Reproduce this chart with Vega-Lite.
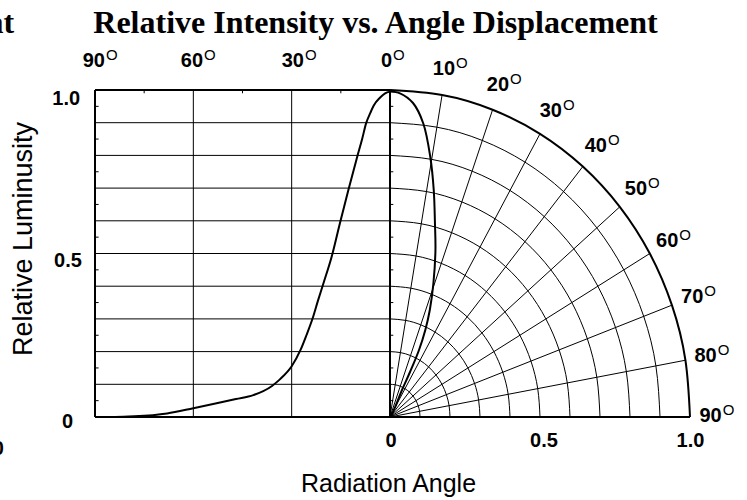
{
  "$schema": "https://vega.github.io/schema/vega-lite/v6.json",
  "width": 595,
  "height": 327,
  "autosize": {"type": "none"},
  "padding": {"left": 95, "top": 90, "right": 57, "bottom": 83},
  "background": "white",
  "config": {"view": {"stroke": null}, "font": "Liberation Sans"},
  "datasets": {
    "leftcurve": [
      {"a": 0, "y": 0.995}, {"a": 1.5, "y": 0.99}, {"a": 3, "y": 0.977}, {"a": 5, "y": 0.952},
      {"a": 6, "y": 0.93}, {"a": 7.3, "y": 0.898}, {"a": 8.5, "y": 0.85}, {"a": 10, "y": 0.796},
      {"a": 12.7, "y": 0.694}, {"a": 15.3, "y": 0.592}, {"a": 17.8, "y": 0.49}, {"a": 20.3, "y": 0.409},
      {"a": 22, "y": 0.355}, {"a": 23.6, "y": 0.302}, {"a": 25.5, "y": 0.25}, {"a": 27.3, "y": 0.205},
      {"a": 30, "y": 0.155}, {"a": 33.6, "y": 0.115}, {"a": 36, "y": 0.095}, {"a": 41.7, "y": 0.067},
      {"a": 47, "y": 0.055}, {"a": 52.9, "y": 0.042}, {"a": 60, "y": 0.027}, {"a": 68, "y": 0.011},
      {"a": 78, "y": 0.002}, {"a": 84, "y": 0}, {"a": 88.5, "y": 0}
    ],
    "polarcurve": [
      {"k": 1, "x": 0, "y": 0.9954}, {"k": 2, "x": 0.0333, "y": 0.9899}, {"k": 3, "x": 0.0767, "y": 0.9602},
      {"k": 4, "x": 0.111, "y": 0.8976}, {"k": 5, "x": 0.1343, "y": 0.7951}, {"k": 6, "x": 0.1458, "y": 0.6942},
      {"k": 7, "x": 0.1498, "y": 0.5933}, {"k": 8, "x": 0.1515, "y": 0.5107}, {"k": 9, "x": 0.1448, "y": 0.4098},
      {"k": 10, "x": 0.1327, "y": 0.3272}, {"k": 11, "x": 0.1177, "y": 0.2661}, {"k": 12, "x": 0.0967, "y": 0.2049},
      {"k": 13, "x": 0.0667, "y": 0.1376}, {"k": 14, "x": 0.04, "y": 0.0826}, {"k": 15, "x": 0.02, "y": 0.0367},
      {"k": 16, "x": 0.0067, "y": 0.0092}, {"k": 17, "x": 0, "y": 0}
    ],
    "rings": [
      {"r":0.1,"x":0,"y":0.1},{"r":0.1,"x":0.0174,"y":0.0985},{"r":0.1,"x":0.0342,"y":0.094},{"r":0.1,"x":0.05,"y":0.0866},{"r":0.1,"x":0.0643,"y":0.0766},{"r":0.1,"x":0.0766,"y":0.0643},{"r":0.1,"x":0.0866,"y":0.05},{"r":0.1,"x":0.094,"y":0.0342},{"r":0.1,"x":0.0985,"y":0.0174},{"r":0.1,"x":0.1,"y":0},
      {"r":0.2,"x":0,"y":0.2},{"r":0.2,"x":0.0347,"y":0.197},{"r":0.2,"x":0.0684,"y":0.1879},{"r":0.2,"x":0.1,"y":0.1732},{"r":0.2,"x":0.1286,"y":0.1532},{"r":0.2,"x":0.1532,"y":0.1286},{"r":0.2,"x":0.1732,"y":0.1},{"r":0.2,"x":0.1879,"y":0.0684},{"r":0.2,"x":0.197,"y":0.0347},{"r":0.2,"x":0.2,"y":0},
      {"r":0.3,"x":0,"y":0.3},{"r":0.3,"x":0.0521,"y":0.2954},{"r":0.3,"x":0.1026,"y":0.2819},{"r":0.3,"x":0.15,"y":0.2598},{"r":0.3,"x":0.1928,"y":0.2298},{"r":0.3,"x":0.2298,"y":0.1928},{"r":0.3,"x":0.2598,"y":0.15},{"r":0.3,"x":0.2819,"y":0.1026},{"r":0.3,"x":0.2954,"y":0.0521},{"r":0.3,"x":0.3,"y":0},
      {"r":0.4,"x":0,"y":0.4},{"r":0.4,"x":0.0695,"y":0.3939},{"r":0.4,"x":0.1368,"y":0.3759},{"r":0.4,"x":0.2,"y":0.3464},{"r":0.4,"x":0.2571,"y":0.3064},{"r":0.4,"x":0.3064,"y":0.2571},{"r":0.4,"x":0.3464,"y":0.2},{"r":0.4,"x":0.3759,"y":0.1368},{"r":0.4,"x":0.3939,"y":0.0695},{"r":0.4,"x":0.4,"y":0},
      {"r":0.5,"x":0,"y":0.5},{"r":0.5,"x":0.0868,"y":0.4924},{"r":0.5,"x":0.171,"y":0.4698},{"r":0.5,"x":0.25,"y":0.433},{"r":0.5,"x":0.3214,"y":0.383},{"r":0.5,"x":0.383,"y":0.3214},{"r":0.5,"x":0.433,"y":0.25},{"r":0.5,"x":0.4698,"y":0.171},{"r":0.5,"x":0.4924,"y":0.0868},{"r":0.5,"x":0.5,"y":0},
      {"r":0.6,"x":0,"y":0.6},{"r":0.6,"x":0.1042,"y":0.5909},{"r":0.6,"x":0.2052,"y":0.5638},{"r":0.6,"x":0.3,"y":0.5196},{"r":0.6,"x":0.3857,"y":0.4596},{"r":0.6,"x":0.4596,"y":0.3857},{"r":0.6,"x":0.5196,"y":0.3},{"r":0.6,"x":0.5638,"y":0.2052},{"r":0.6,"x":0.5909,"y":0.1042},{"r":0.6,"x":0.6,"y":0},
      {"r":0.7,"x":0,"y":0.7},{"r":0.7,"x":0.1216,"y":0.6894},{"r":0.7,"x":0.2394,"y":0.6578},{"r":0.7,"x":0.35,"y":0.6062},{"r":0.7,"x":0.45,"y":0.5362},{"r":0.7,"x":0.5362,"y":0.45},{"r":0.7,"x":0.6062,"y":0.35},{"r":0.7,"x":0.6578,"y":0.2394},{"r":0.7,"x":0.6894,"y":0.1216},{"r":0.7,"x":0.7,"y":0},
      {"r":0.8,"x":0,"y":0.8},{"r":0.8,"x":0.1389,"y":0.7878},{"r":0.8,"x":0.2736,"y":0.7518},{"r":0.8,"x":0.4,"y":0.6928},{"r":0.8,"x":0.5142,"y":0.6128},{"r":0.8,"x":0.6128,"y":0.5142},{"r":0.8,"x":0.6928,"y":0.4},{"r":0.8,"x":0.7518,"y":0.2736},{"r":0.8,"x":0.7878,"y":0.1389},{"r":0.8,"x":0.8,"y":0},
      {"r":0.9,"x":0,"y":0.9},{"r":0.9,"x":0.1563,"y":0.8863},{"r":0.9,"x":0.3078,"y":0.8457},{"r":0.9,"x":0.45,"y":0.7794},{"r":0.9,"x":0.5785,"y":0.6894},{"r":0.9,"x":0.6894,"y":0.5785},{"r":0.9,"x":0.7794,"y":0.45},{"r":0.9,"x":0.8457,"y":0.3078},{"r":0.9,"x":0.8863,"y":0.1563},{"r":0.9,"x":0.9,"y":0},
      {"r":1,"x":0,"y":1},{"r":1,"x":0.1736,"y":0.9848},{"r":1,"x":0.342,"y":0.9397},{"r":1,"x":0.5,"y":0.866},{"r":1,"x":0.6428,"y":0.766},{"r":1,"x":0.766,"y":0.6428},{"r":1,"x":0.866,"y":0.5},{"r":1,"x":0.9397,"y":0.342},{"r":1,"x":0.9848,"y":0.1736},{"r":1,"x":1,"y":0}
    ],
    "radials": [
      {"deg": 10, "x": 0, "y": 0, "x2": 0.1736, "y2": 0.9848}, {"deg": 20, "x": 0, "y": 0, "x2": 0.342, "y2": 0.9397},
      {"deg": 30, "x": 0, "y": 0, "x2": 0.5, "y2": 0.866}, {"deg": 40, "x": 0, "y": 0, "x2": 0.6428, "y2": 0.766},
      {"deg": 50, "x": 0, "y": 0, "x2": 0.766, "y2": 0.6428}, {"deg": 60, "x": 0, "y": 0, "x2": 0.866, "y2": 0.5},
      {"deg": 70, "x": 0, "y": 0, "x2": 0.9397, "y2": 0.342}, {"deg": 80, "x": 0, "y": 0, "x2": 0.9848, "y2": 0.1736}
    ],
    "hgrid": [{"y": 0.1}, {"y": 0.2}, {"y": 0.3}, {"y": 0.4}, {"y": 0.5}, {"y": 0.6}, {"y": 0.7}, {"y": 0.8}, {"y": 0.9}],
    "minor": [{"y": 0.05}, {"y": 0.15}, {"y": 0.25}, {"y": 0.35}, {"y": 0.45}, {"y": 0.55}, {"y": 0.65}, {"y": 0.75}, {"y": 0.85}, {"y": 0.95}],
    "deglabels": [
      {"t": "90", "x": -0.95, "y": 1.0703}, {"t": "60", "x": -0.6233, "y": 1.0703},
      {"t": "30", "x": -0.2867, "y": 1.0703}, {"t": "0", "x": 0.0067, "y": 1.0703},
      {"t": "10", "x": 0.2167, "y": 1.0459}, {"t": "20", "x": 0.3967, "y": 0.9979},
      {"t": "30", "x": 0.5733, "y": 0.9174}, {"t": "40", "x": 0.7233, "y": 0.8113},
      {"t": "50", "x": 0.8567, "y": 0.6789}, {"t": "60", "x": 0.961, "y": 0.5208},
      {"t": "70", "x": 1.0443, "y": 0.3477}, {"t": "80", "x": 1.089, "y": 0.1691},
      {"t": "90", "x": 1.1057, "y": -0.0144}
    ],
    "numlabels": [
      {"t": "0", "x": 0.0033, "y": -0.0917}, {"t": "0.5", "x": 0.5133, "y": -0.0917}, {"t": "1.0", "x": 1.0017, "y": -0.0917},
      {"t": "1.0", "x": -1.0793, "y": 0.9541}, {"t": "0.5", "x": -1.0733, "y": 0.4596}, {"t": "0", "x": -1.075, "y": -0.0346}
    ]
  },
  "resolve": {"scale": {"x": "independent"}},
  "layer": [
    {
      "data": {"name": "leftcurve"},
      "mark": {"type": "line", "color": "black", "strokeWidth": 2, "interpolate": "monotone"},
      "encoding": {
        "x": {"field": "a", "type": "quantitative", "title": "Radiation Angle", "scale": {"domain": [90, -91.525], "nice": false, "zero": false}, "axis": null},
        "y": {"field": "y", "type": "quantitative", "title": "Relative Luminusity", "scale": {"domain": [0, 1], "nice": false, "zero": false}, "axis": null}
      }
    },
    {
      "data": {"name": "hgrid"},
      "mark": {"type": "rule", "color": "black", "strokeWidth": 1},
      "encoding": {
        "x": {"datum": 90, "type": "quantitative", "scale": {"domain": [90, -91.525], "nice": false, "zero": false}, "axis": null},
        "x2": {"datum": 0},
        "y": {"field": "y", "type": "quantitative", "scale": {"domain": [0, 1], "nice": false, "zero": false}, "axis": null}
      }
    },
    {
      "data": {"values": [{"a": 60, "y": 0, "y2": 1}, {"a": 30, "y": 0, "y2": 1}]},
      "mark": {"type": "rule", "color": "black", "strokeWidth": 1},
      "encoding": {
        "x": {"field": "a", "type": "quantitative", "scale": {"domain": [90, -91.525], "nice": false, "zero": false}, "axis": null},
        "y": {"field": "y", "type": "quantitative", "scale": {"domain": [0, 1], "nice": false, "zero": false}, "axis": null},
        "y2": {"field": "y2"}
      }
    },
    {
      "data": {"values": [{"a": 90, "y": 0, "y2": 1}, {"a": 0, "y": 0, "y2": 1}]},
      "mark": {"type": "rule", "color": "black", "strokeWidth": 2},
      "encoding": {
        "x": {"field": "a", "type": "quantitative", "scale": {"domain": [90, -91.525], "nice": false, "zero": false}, "axis": null},
        "y": {"field": "y", "type": "quantitative", "scale": {"domain": [0, 1], "nice": false, "zero": false}, "axis": null},
        "y2": {"field": "y2"}
      }
    },
    {
      "data": {"values": [{"y": 1}]},
      "mark": {"type": "rule", "color": "black", "strokeWidth": 2},
      "encoding": {
        "x": {"datum": 90, "type": "quantitative", "scale": {"domain": [90, -91.525], "nice": false, "zero": false}, "axis": null},
        "x2": {"datum": 0},
        "y": {"field": "y", "type": "quantitative", "scale": {"domain": [0, 1], "nice": false, "zero": false}, "axis": null}
      }
    },
    {
      "data": {"name": "minor"},
      "mark": {"type": "rule", "color": "black", "strokeWidth": 1},
      "encoding": {
        "x": {"datum": 90, "type": "quantitative", "scale": {"domain": [90, -91.525], "nice": false, "zero": false}, "axis": null},
        "x2": {"datum": 88.9},
        "y": {"field": "y", "type": "quantitative", "scale": {"domain": [0, 1], "nice": false, "zero": false}, "axis": null}
      }
    },
    {
      "data": {"values": [{"a": 75, "y": 1, "y2": 0.99}, {"a": 45, "y": 1, "y2": 0.99}, {"a": 15, "y": 1, "y2": 0.99}]},
      "mark": {"type": "rule", "color": "black", "strokeWidth": 1},
      "encoding": {
        "x": {"field": "a", "type": "quantitative", "scale": {"domain": [90, -91.525], "nice": false, "zero": false}, "axis": null},
        "y": {"field": "y", "type": "quantitative", "scale": {"domain": [0, 1], "nice": false, "zero": false}, "axis": null},
        "y2": {"field": "y2"}
      }
    },
    {
      "data": {"name": "rings"},
      "transform": [{"filter": "datum.r < 1"}],
      "mark": {"type": "line", "color": "black", "strokeWidth": 1, "interpolate": "natural"},
      "encoding": {
        "x": {"field": "x", "type": "quantitative", "scale": {"domain": [-0.98333, 1], "nice": false, "zero": false}, "axis": null},
        "y": {"field": "y", "type": "quantitative", "scale": {"domain": [0, 1], "nice": false, "zero": false}, "axis": null},
        "detail": {"field": "r", "type": "nominal"}
      }
    },
    {
      "data": {"name": "rings"},
      "transform": [{"filter": "datum.r == 1"}],
      "mark": {"type": "line", "color": "black", "strokeWidth": 2, "interpolate": "natural"},
      "encoding": {
        "x": {"field": "x", "type": "quantitative", "scale": {"domain": [-0.98333, 1], "nice": false, "zero": false}, "axis": null},
        "y": {"field": "y", "type": "quantitative", "scale": {"domain": [0, 1], "nice": false, "zero": false}, "axis": null}
      }
    },
    {
      "data": {"name": "radials"},
      "mark": {"type": "rule", "color": "black", "strokeWidth": 1},
      "encoding": {
        "x": {"field": "x", "type": "quantitative", "scale": {"domain": [-0.98333, 1], "nice": false, "zero": false}, "axis": null},
        "y": {"field": "y", "type": "quantitative", "scale": {"domain": [0, 1], "nice": false, "zero": false}, "axis": null},
        "x2": {"field": "x2"},
        "y2": {"field": "y2"}
      }
    },
    {
      "data": {"values": [{"y": 0}]},
      "mark": {"type": "rule", "color": "black", "strokeWidth": 2},
      "encoding": {
        "x": {"datum": -0.98333, "type": "quantitative", "scale": {"domain": [-0.98333, 1], "nice": false, "zero": false}, "axis": null},
        "x2": {"datum": 1},
        "y": {"field": "y", "type": "quantitative", "scale": {"domain": [0, 1], "nice": false, "zero": false}, "axis": null}
      }
    },
    {
      "data": {"name": "minor"},
      "mark": {"type": "rule", "color": "black", "strokeWidth": 1},
      "encoding": {
        "x": {"datum": 0, "type": "quantitative", "scale": {"domain": [-0.98333, 1], "nice": false, "zero": false}, "axis": null},
        "x2": {"datum": 0.011},
        "y": {"field": "y", "type": "quantitative", "scale": {"domain": [0, 1], "nice": false, "zero": false}, "axis": null}
      }
    },
    {
      "data": {"name": "polarcurve"},
      "mark": {"type": "line", "color": "black", "strokeWidth": 2, "interpolate": "catmull-rom"},
      "encoding": {
        "x": {"field": "x", "type": "quantitative", "scale": {"domain": [-0.98333, 1], "nice": false, "zero": false}, "axis": null},
        "y": {"field": "y", "type": "quantitative", "scale": {"domain": [0, 1], "nice": false, "zero": false}, "axis": null},
        "order": {"field": "k", "type": "quantitative"}
      }
    },
    {
      "data": {"name": "deglabels"},
      "mark": {"type": "text", "font": "Liberation Sans", "fontWeight": "bold", "fontSize": 20, "color": "black", "align": "right", "baseline": "alphabetic"},
      "encoding": {
        "x": {"field": "x", "type": "quantitative", "scale": {"domain": [-0.98333, 1], "nice": false, "zero": false}, "axis": null},
        "y": {"field": "y", "type": "quantitative", "scale": {"domain": [0, 1], "nice": false, "zero": false}, "axis": null},
        "text": {"field": "t"}
      }
    },
    {
      "data": {"name": "deglabels"},
      "mark": {"type": "text", "font": "Liberation Sans Narrow, Liberation Sans", "fontWeight": "normal", "fontSize": 15, "color": "black", "align": "left", "baseline": "alphabetic", "dx": 1, "dy": -7},
      "encoding": {
        "x": {"field": "x", "type": "quantitative", "scale": {"domain": [-0.98333, 1], "nice": false, "zero": false}, "axis": null},
        "y": {"field": "y", "type": "quantitative", "scale": {"domain": [0, 1], "nice": false, "zero": false}, "axis": null},
        "text": {"value": "O"}
      }
    },
    {
      "data": {"name": "numlabels"},
      "mark": {"type": "text", "font": "Liberation Sans", "fontWeight": "bold", "fontSize": 20, "color": "black", "align": "center", "baseline": "alphabetic"},
      "encoding": {
        "x": {"field": "x", "type": "quantitative", "scale": {"domain": [-0.98333, 1], "nice": false, "zero": false}, "axis": null},
        "y": {"field": "y", "type": "quantitative", "scale": {"domain": [0, 1], "nice": false, "zero": false}, "axis": null},
        "text": {"field": "t"}
      }
    },
    {
      "data": {"values": [{"t": "Relative Luminusity", "x": -1.1933, "y": 0.5443}]},
      "mark": {"type": "text", "font": "Liberation Sans", "fontWeight": "normal", "fontSize": 27, "color": "black", "align": "center", "baseline": "alphabetic", "angle": 270},
      "encoding": {
        "x": {"field": "x", "type": "quantitative", "scale": {"domain": [-0.98333, 1], "nice": false, "zero": false}, "axis": null},
        "y": {"field": "y", "type": "quantitative", "scale": {"domain": [0, 1], "nice": false, "zero": false}, "axis": null},
        "text": {"field": "t"}
      }
    },
    {
      "data": {"values": [{"t": "Relative Intensity vs. Angle Displacement", "x": -0.0483, "y": 1.1743}]},
      "mark": {"type": "text", "font": "Liberation Serif", "fontWeight": "bold", "fontSize": 32, "color": "black", "align": "center", "baseline": "alphabetic"},
      "encoding": {
        "x": {"field": "x", "type": "quantitative", "scale": {"domain": [-0.98333, 1], "nice": false, "zero": false}, "axis": null},
        "y": {"field": "y", "type": "quantitative", "scale": {"domain": [0, 1], "nice": false, "zero": false}, "axis": null},
        "text": {"field": "t"}
      }
    },
    {
      "data": {"values": [{"t": "at", "x": -1.253, "y": 1.1743}]},
      "mark": {"type": "text", "font": "Liberation Serif", "fontWeight": "bold", "fontSize": 32, "color": "black", "align": "right", "baseline": "alphabetic"},
      "encoding": {
        "x": {"field": "x", "type": "quantitative", "scale": {"domain": [-0.98333, 1], "nice": false, "zero": false}, "axis": null},
        "y": {"field": "y", "type": "quantitative", "scale": {"domain": [0, 1], "nice": false, "zero": false}, "axis": null},
        "text": {"field": "t"}
      }
    },
    {
      "data": {"values": [{"t": "0", "x": -1.2867, "y": -0.1162}]},
      "mark": {"type": "text", "font": "Liberation Sans", "fontWeight": "bold", "fontSize": 20, "color": "black", "align": "right", "baseline": "alphabetic"},
      "encoding": {
        "x": {"field": "x", "type": "quantitative", "scale": {"domain": [-0.98333, 1], "nice": false, "zero": false}, "axis": null},
        "y": {"field": "y", "type": "quantitative", "scale": {"domain": [0, 1], "nice": false, "zero": false}, "axis": null},
        "text": {"field": "t"}
      }
    },
    {
      "data": {"values": [{"t": "Radiation Angle", "x": -0.005, "y": -0.2294}]},
      "mark": {"type": "text", "font": "Liberation Sans", "fontWeight": "normal", "fontSize": 25, "color": "black", "align": "center", "baseline": "alphabetic"},
      "encoding": {
        "x": {"field": "x", "type": "quantitative", "scale": {"domain": [-0.98333, 1], "nice": false, "zero": false}, "axis": null},
        "y": {"field": "y", "type": "quantitative", "scale": {"domain": [0, 1], "nice": false, "zero": false}, "axis": null},
        "text": {"field": "t"}
      }
    }
  ]
}
